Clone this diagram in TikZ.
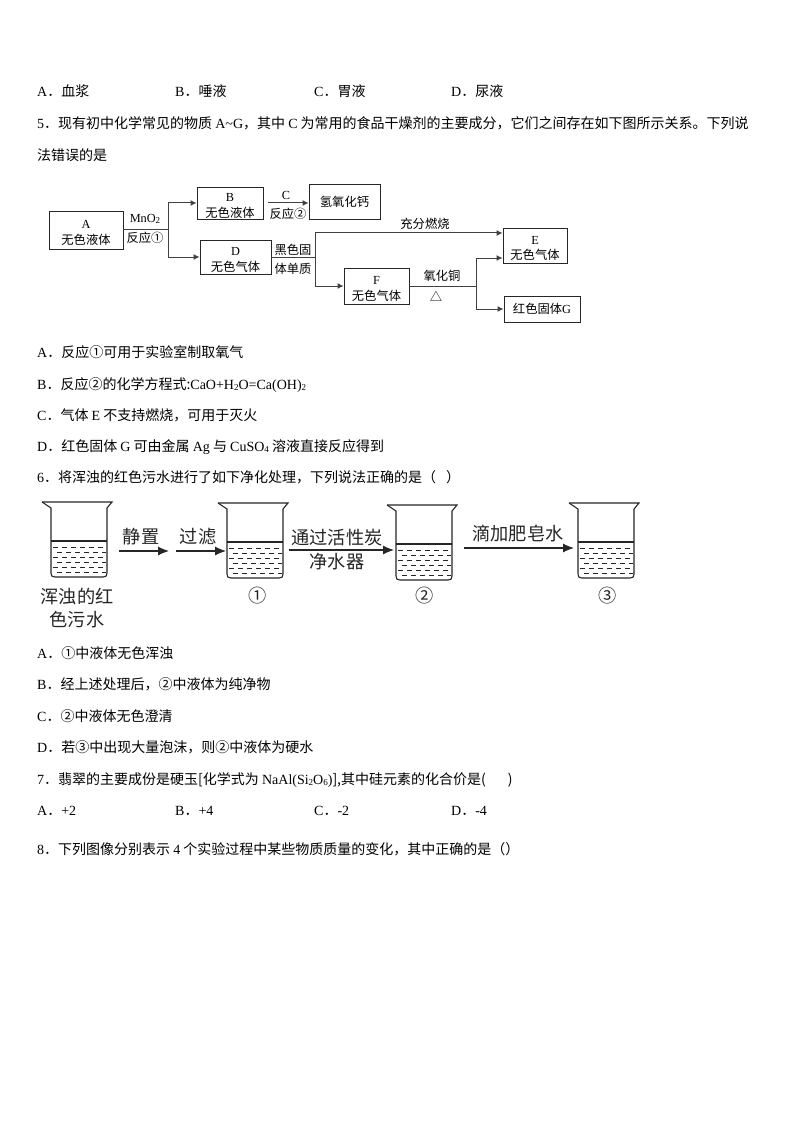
\documentclass[tikz,border=0pt]{standalone}
\usepackage{fontspec}
\setmainfont{Noto Sans CJK SC}
\newfontfamily\latf{Liberation Serif}
\usetikzlibrary{arrows.meta}
\newcommand{\lt}[1]{{\latf #1}}
\newcommand{\lsub}[1]{\raisebox{-1.8pt}{\fontsize{9}{9}\selectfont\latf #1}}
\newcommand{\topstrut}{\rule{0pt}{14pt}}
\newcommand{\drawbeaker}[2]{%
  \draw[beakerline] (#1,#2) -- (#1+70,#2) -- (#1+65,#2+6);
  \draw[beakerline] (#1,#2) -- (#1+9,#2+6) -- (#1+9,#2+71)
     .. controls (#1+9,#2+74) and (#1+10,#2+75) .. (#1+13,#2+75) -- (#1+61,#2+75)
     .. controls (#1+64,#2+75) and (#1+65,#2+74) .. (#1+65,#2+71) -- (#1+65,#2+6);
  \draw[beakerline] (#1+9,#2+39) -- (#1+65,#2+39);
  \foreach \r/\s in {45/0,50/4,55/0,60/4,65/0,70/4}
    \draw[dashline] (#1+11+\s,#2+\r) -- (#1+64,#2+\r);
}
\tikzset{
  txt/.style={anchor=base west,inner sep=0pt,font=\fontsize{14}{16}\selectfont},
  fbox/.style={draw=black!85,line width=0.9pt,inner sep=0pt,align=center,font=\fontsize{12.3}{15.5}\selectfont},
  flab/.style={inner sep=0pt,font=\fontsize{12.3}{14}\selectfont,align=center},
  conn/.style={draw=black!75,line width=1pt},
  arr/.style={conn,-{Latex[length=6pt,width=6pt]}},
  beakerline/.style={draw=black!85,line width=1.1pt},
  dashline/.style={draw=black!85,line width=0.8pt,dash pattern=on 5pt off 4pt},
  blab/.style={inner sep=0pt,align=center,font=\fontsize{18.2}{23}\selectfont,text=black!85},
  barr/.style={draw=black!85,line width=1.1pt,-{Latex[length=11pt,width=9pt]}}
}
\begin{document}
\begin{tikzpicture}[x=1pt,y=-1pt]
\useasboundingbox[fill=white] (0,0) rectangle (794,1123);
% text lines
\node[txt] (a1) at (37,97) {\lt{A}．血浆};
\node[txt] (a2) at (175,97) {\lt{B}．唾液};
\node[txt] (a3) at (314,97) {\lt{C}．胃液};
\node[txt] (a4) at (451,97) {\lt{D}．尿液};
\node[txt] (q5) at (37,129) {\lt{5}．现有初中化学常见的物质 \lt{A\textasciitilde G}，其中 \lt{C} 为常用的食品干燥剂的主要成分，它们之间存在如下图所示关系。下列说};
\node[txt] (q5b) at (37,161) {法错误的是};
\node[txt] (b1) at (37,357) {\lt{A}．反应①可用于实验室制取氧气};
\node[txt] (b2) at (37,389) {\lt{B}．反应②的化学方程式:\lt{CaO+H\lsub{2}O=Ca(OH)\lsub{2}}};
\node[txt] (b3) at (37,420) {\lt{C}．气体 \lt{E} 不支持燃烧，可用于灭火};
\node[txt] (b4) at (37,451) {\lt{D}．红色固体 \lt{G} 可由金属 \lt{Ag} 与 \lt{CuSO\lsub{4}} 溶液直接反应得到};
\node[txt] (q6) at (37,482) {\lt{6}．将浑浊的红色污水进行了如下净化处理，下列说法正确的是（\hspace{10pt}）};
\node[txt] (c1) at (37,658) {\lt{A}．①中液体无色浑浊};
\node[txt] (c2) at (37,689) {\lt{B}．经上述处理后，②中液体为纯净物};
\node[txt] (c3) at (37,721) {\lt{C}．②中液体无色澄清};
\node[txt] (c4) at (37,752) {\lt{D}．若③中出现大量泡沫，则②中液体为硬水};
\node[txt] (q7) at (37,784) {\lt{7}．翡翠的主要成份是硬玉[化学式为 \lt{NaAl(Si\lsub{2}O\lsub{6})}],其中硅元素的化合价是(\hspace{22pt})};
\node[txt] (d1) at (37,815) {\lt{A}．\lt{+2}};
\node[txt] (d2) at (175,815) {\lt{B}．\lt{+4}};
\node[txt] (d3) at (314,815) {\lt{C}．\lt{-2}};
\node[txt] (d4) at (451,815) {\lt{D}．\lt{-4}};
\node[txt] (q8) at (37,854) {\lt{8}．下列图像分别表示 \lt{4} 个实验过程中某些物质质量的变化，其中正确的是（）};
% flow chart boxes
\node[fbox,minimum width=74pt,minimum height=38pt] (A) at (86,230) {\topstrut\lt{A}\\无色液体};
\node[fbox,minimum width=66pt,minimum height=32pt] (B) at (230,203) {\topstrut\lt{B}\\无色液体};
\node[fbox,minimum width=71pt,minimum height=35pt] (Ca) at (344.5,201.5) {氢氧化钙};
\node[fbox,minimum width=71pt,minimum height=34pt] (D) at (235.5,257) {\topstrut\lt{D}\\无色气体};
\node[fbox,minimum width=64pt,minimum height=35pt] (E) at (535,245.5) {\topstrut\lt{E}\\无色气体};
\node[fbox,minimum width=65pt,minimum height=36pt] (F) at (376.5,286) {\topstrut\lt{F}\\无色气体};
\node[fbox,minimum width=76pt,minimum height=26pt] (G) at (542,309) {红色固体\lt{G}};
% junctions
\coordinate (j1) at (168,230);
\coordinate (j2) at (315,257);
\coordinate (j3) at (476,286);
\coordinate (cs) at (268,203);
\draw[conn] (A.east) -- (j1);
\draw[arr] (j1) |- (B.west);
\draw[arr] (j1) |- (D.west);
\draw[arr] (cs) -- (Ca.west |- cs);
\draw[conn] (D.east) -- (j2);
\draw[arr] (j2) |- (E.west |- 0,233);
\draw[arr] (j2) |- (F.west);
\draw[conn] (F.east) -- (j3);
\draw[arr] (j3) |- (E.west |- 0,258);
\draw[arr] (j3) |- (G.west);
% flow labels
\node[flab] (lm) at (145,219) {\lt{MnO\lsub{2}}};
\node[flab] (lr1) at (145,238) {反应①};
\node[flab] (lc) at (286,195) {\lt{C}};
\node[flab] (lr2) at (288,214) {反应②};
\node[flab] (lh1) at (293,250) {黑色固};
\node[flab] (lh2) at (293,269) {体单质};
\node[flab] (lcf) at (425,224) {充分燃烧};
\node[flab] (lcu) at (442,276) {氧化铜};
\node[flab] (ltr) at (436,296) {△};
% beakers
\drawbeaker{42}{502}
\drawbeaker{218}{503}
\drawbeaker{387}{505}
\drawbeaker{569}{503}
\coordinate (s0a) at (119,551); \coordinate (s0b) at (169,551);
\coordinate (s1a) at (176,551); \coordinate (s1b) at (226,551);
\coordinate (s2a) at (289,550); \coordinate (s2b) at (394,550);
\coordinate (s3a) at (464,548); \coordinate (s3b) at (574,548);
\draw[barr] (s0a) -- (s0b);
\draw[barr] (s1a) -- (s1b);
\draw[barr] (s2a) -- (s2b);
\draw[barr] (s3a) -- (s3b);
\node[blab] (t0) at (141,537) {静置};
\node[blab] (t1) at (198,537) {过滤};
\node[blab] (t2) at (337,538) {通过活性炭};
\node[blab] (t2b) at (337,562) {净水器};
\node[blab] (t3) at (518,534) {滴加肥皂水};
\node[blab] (n0) at (77,608) {浑浊的红\\色污水};
\node[blab] (n1) at (258,596) {①};
\node[blab] (n2) at (425,596) {②};
\node[blab] (n3) at (608,596) {③};
\end{tikzpicture}
\end{document}
